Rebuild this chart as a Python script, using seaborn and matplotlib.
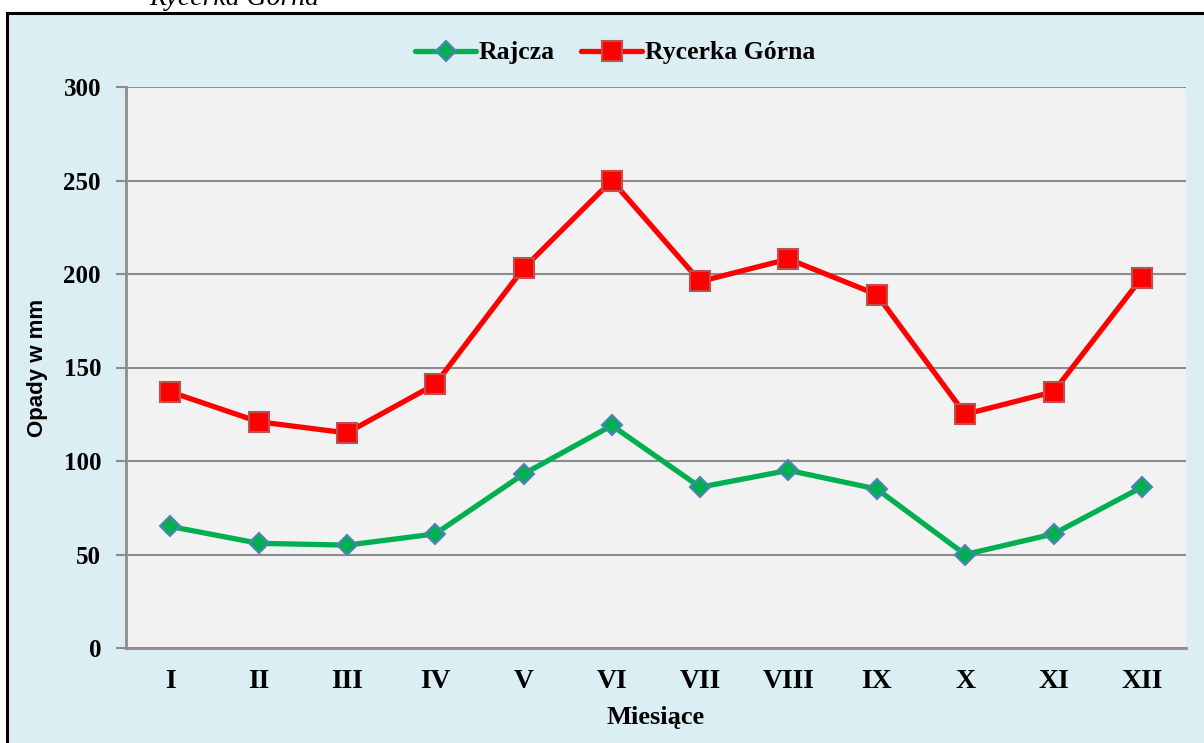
import numpy as np
import pandas as pd
import matplotlib
matplotlib.use('Agg')
import matplotlib.pyplot as plt
from matplotlib.patches import Rectangle
from matplotlib.lines import Line2D
import seaborn as sns

# Monthly precipitation (mm)
months = ['I', 'II', 'III', 'IV', 'V', 'VI', 'VII', 'VIII', 'IX', 'X', 'XI', 'XII']
rajcza = [65, 56, 55, 61, 93, 119, 86, 95, 85, 50, 61, 86]
rycerka = [137, 121, 115, 141, 203, 250, 196, 208, 189, 125, 137, 198]
y_ticks = [0, 50, 100, 150, 200, 250, 300]

df = pd.DataFrame({'pos': np.arange(len(months)), 'Rajcza': rajcza, 'Rycerka Górna': rycerka})

sns.set_style('white')
plt.rcParams['text.color'] = 'black'
plt.rcParams['axes.labelcolor'] = 'black'
plt.rcParams['xtick.labelcolor'] = 'black'
plt.rcParams['ytick.labelcolor'] = 'black'
serif = ['Liberation Serif', 'DejaVu Serif']
sans = ['Liberation Sans', 'DejaVu Sans']

W, H = 1204, 743
fig = plt.figure(figsize=(W / 100, H / 100), dpi=100)
fig.patch.set_facecolor('white')

# chart area frame (light blue with black border)
frame = Rectangle((7 / W, -0.05), 1.1, (H - 13) / H + 0.05, transform=fig.transFigure,
                  facecolor='#DAEEF3', edgecolor='black', linewidth=2.2, zorder=-10)
fig.patches.append(frame)

# cropped caption above the chart
fig.text(234 / W, 1.0 - 5 / H, 'Rycerka Górna', ha='center', va='baseline',
         fontsize=20, style='italic', family=serif, color='black')

ax = fig.add_axes([126 / W, (H - 648) / H, (1186 - 126) / W, (648 - 87) / H])
ax.set_zorder(2)
ax.set_facecolor('#F2F2F2')

green_kw = dict(color='#00B050', linewidth=3.8, marker='D', markersize=10.5,
                markerfacecolor='#00B050', markeredgecolor='#4F81BD', markeredgewidth=1.5)
red_kw = dict(color='#FF0000', linewidth=3.8, marker='s', markersize=14,
              markerfacecolor='#FF0000', markeredgecolor='#C0504D', markeredgewidth=1.5)

sns.lineplot(data=df, x='pos', y='Rajcza', ax=ax, zorder=3, **green_kw)
sns.lineplot(data=df, x='pos', y='Rycerka Górna', ax=ax, zorder=4, **red_kw)

ax.set_xlim(-0.5, len(months) - 0.5)
ax.set_ylim(0, 300)
ax.set_yticks(y_ticks)
ax.set_yticklabels([str(v) for v in y_ticks], fontsize=18, fontweight='bold', family=serif)
ax.set_xticks(np.arange(len(months)))
ax.set_xticklabels(months, fontsize=20, fontweight='bold', family=serif)
ax.set_xticks(np.arange(-0.5, len(months)), minor=True)
ax.tick_params(axis='x', which='major', length=0, pad=15)
ax.tick_params(axis='x', which='minor', length=7, width=1.5, color='#8C8C8C', direction='out')
ax.tick_params(axis='y', length=7, width=1.5, color='#8C8C8C', direction='out', pad=11, left=True)

ax.yaxis.grid(True, color='#8C8C8C', linewidth=1.5, zorder=1)
ax.set_axisbelow(True)
for side in ['top', 'right']:
    ax.spines[side].set_visible(False)
for side in ['left', 'bottom']:
    ax.spines[side].set_color('#8C8C8C')
    ax.spines[side].set_linewidth(2)

ax.set_xlabel('Miesiące', fontsize=19, fontweight='bold', family=serif, labelpad=9)
ax.set_ylabel('Opady w mm', fontsize=16, fontweight='bold', family=sans, labelpad=11)

handles = [Line2D([], [], **green_kw), Line2D([], [], **red_kw)]
ax.legend(handles, ['Rajcza', 'Rycerka Górna'], loc='center', bbox_to_anchor=(615 / W, 1 - 53 / H),
          bbox_transform=fig.transFigure, ncol=2, frameon=False, handlelength=2.4,
          handletextpad=0.1, columnspacing=1.0,
          prop={'family': serif, 'weight': 'bold', 'size': 18.5})

fig.savefig('out.png', dpi=100)
